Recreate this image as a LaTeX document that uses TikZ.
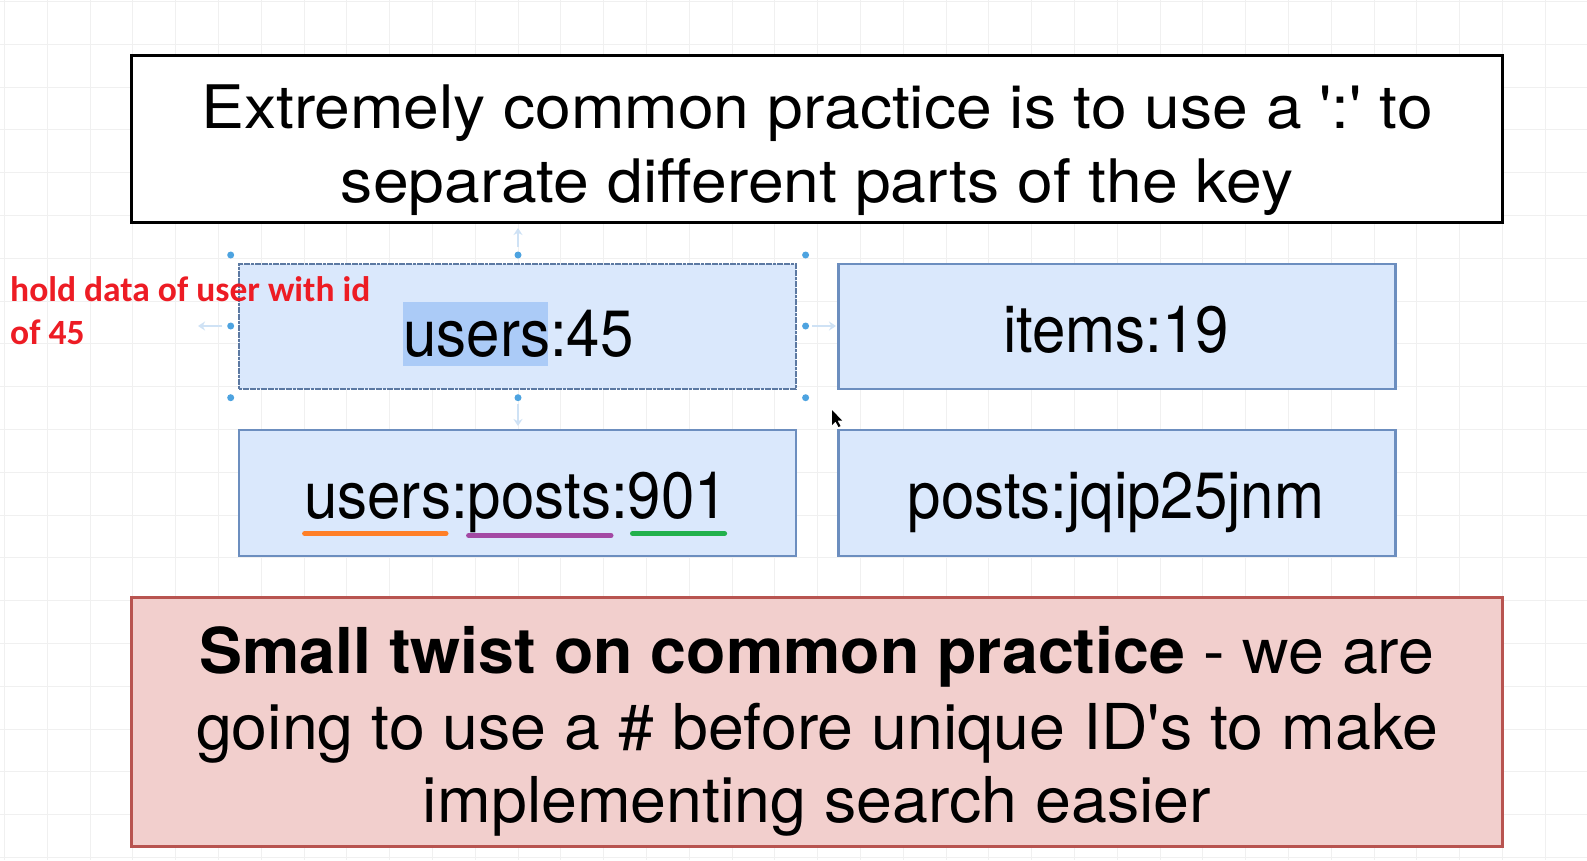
\documentclass[tikz,border=0pt]{standalone}
\usepackage{fontspec}
\usepackage{graphicx}
\setmainfont{TeX Gyre Heros}
\newfontfamily\notefont{Carlito}
\usetikzlibrary{arrows.meta}
\definecolor{keyfill}{HTML}{DAE8FC}
\definecolor{keyline}{HTML}{6C8EBF}
\definecolor{twistfill}{HTML}{F2CFCD}
\definecolor{twistline}{HTML}{B85450}
\definecolor{gridc}{HTML}{F0F0F0}
\definecolor{handle}{HTML}{4DA3E0}
\definecolor{hint}{HTML}{CFE2F5}
\definecolor{selbg}{HTML}{ABCBF7}
\definecolor{noteRed}{HTML}{ED1C24}
\definecolor{ulOrange}{HTML}{FF7F27}
\definecolor{ulPurple}{HTML}{A349A4}
\definecolor{ulGreen}{HTML}{22B14C}
\newcommand{\keystr}[1]{\scalebox{1}[1.09]{#1}}
\newcommand{\topstr}[1]{\scalebox{1.07}[1]{#1}}
\newcommand{\botstr}[1]{\scalebox{1.04}[1.02]{#1}}
\tikzset{
  keybox/.style={draw=keyline, fill=keyfill, line width=2.6pt, minimum width=557pt, minimum height=125pt, inner sep=0pt},
  keytxt/.style={anchor=base, inner sep=0pt, font=\fontsize{60}{66}\selectfont},
  bigtxt/.style={anchor=base, inner sep=0pt, font=\fontsize{60}{66}\selectfont},
  bottxt/.style={anchor=base, inner sep=0pt, font=\fontsize{62}{66}\selectfont},
  notetxt/.style={anchor=base west, inner sep=0pt, text=noteRed, font=\notefont\bfseries\fontsize{35.5}{40}\selectfont},
  dotsel/.style={circle, fill=handle, minimum size=7pt, inner sep=0pt},
  hintarrow/.style={draw=hint, line width=2pt, -{Stealth[length=7pt,width=9pt]}},
  uline/.style={line width=5pt, line cap=round},
}
\begin{document}
\begin{tikzpicture}[x=1pt,y=-1pt]
\useasboundingbox (0,0) rectangle (1587,860);
\fill[white] (0,0) rectangle (1587,860);
% background grid
\foreach \i in {0,...,37} \draw[gridc, line width=1pt] (4.5+42.8*\i,0) -- (4.5+42.8*\i,860);
\foreach \i in {0,...,20} \draw[gridc, line width=1pt] (0,1.5+42.8*\i) -- (1587,1.5+42.8*\i);

% top statement
\node[draw=black, fill=white, line width=3pt, minimum width=1371pt, minimum height=167pt, inner sep=0pt] (top) at (817.3,139) {};
\node[bigtxt] (top1) at (817,128.5) {\topstr{Extremely common practice is to use a \textquotesingle:\textquotesingle\ to}};
\node[bigtxt] (top2) at (817,202.5) {\topstr{separate different parts of the key}};

% selection hints around users:45
\coordinate (hu1) at (518,247); \coordinate (hu2) at (518,228);
\draw[hintarrow] (hu1) -- (hu2);
\coordinate (hl1) at (222,326); \coordinate (hl2) at (198,326);
\draw[hintarrow] (hl1) -- (hl2);
\coordinate (hr1) at (812,326); \coordinate (hr2) at (836,326);
\draw[hintarrow] (hr1) -- (hr2);
\coordinate (hd1) at (518,404); \coordinate (hd2) at (518,426);
\draw[hintarrow] (hd1) -- (hd2);

% key boxes
\node[keybox, draw=keyline!85!black, dash pattern=on 3pt off 0.6pt] (k1) at (517.5,326.5) {};
\node[keybox] (k2) at (1117,326.5) {};
\node[keybox, minimum height=126pt] (k3) at (517.5,493) {};
\node[keybox, minimum height=126pt] (k4) at (1117,493) {};

% selection highlight on "users"
\fill[selbg] (403,301.6) rectangle (547.5,366);
\node[keytxt] (t1) at (518.5,356) {\keystr{users:45}};
\node[keytxt] (t2) at (1116,352) {\keystr{items:19}};
\node[keytxt] (t3) at (516,518) {\keystr{users:posts:901}};
\node[keytxt] (t4) at (1116,518) {\keystr{posts:jqip25jnm}};

% underline marks
\coordinate (o1) at (304.6,533.5); \coordinate (o2) at (446,533.5);
\coordinate (p1) at (468.6,535.5); \coordinate (p2) at (611,535.5);
\coordinate (g1) at (632.5,533.5); \coordinate (g2) at (724.6,533.5);
\draw[uline, ulOrange] (o1) -- (o2);
\draw[uline, ulPurple] (p1) -- (p2);
\draw[uline, ulGreen] (g1) -- (g2);

% selection handles
\foreach \hx/\hy [count=\n] in {230.7/255, 518/255, 805.6/255, 230.7/326, 805.6/326, 230.7/397.7, 518/397.7, 805.6/397.7}
  \node[dotsel] (hd\n) at (\hx,\hy) {};

% mouse cursor
\fill[black] (832,410) -- (832,425) -- (835.5,421.5) -- (838.5,427) -- (840.5,426) -- (837.5,420.5) -- (842,420.5) -- cycle;

% red note
\node[notetxt] (note1) at (10,301) {hold data of user with id};
\node[notetxt] (note2) at (10,344) {of 45};

% bottom twist box
\node[draw=twistline, fill=twistfill, line width=3pt, minimum width=1371pt, minimum height=249pt, inner sep=0pt] (bottom) at (817.3,721.5) {};
\node[bottxt] (b1) at (817,673) {\botstr{\textbf{Small twist on common practice} - we are}};
\node[bottxt] (b2) at (817,749) {\botstr{going to use a \# before unique ID\textquotesingle s to make}};
\node[bottxt] (b3) at (817,822) {\botstr{implementing search easier}};
\end{tikzpicture}
\end{document}
